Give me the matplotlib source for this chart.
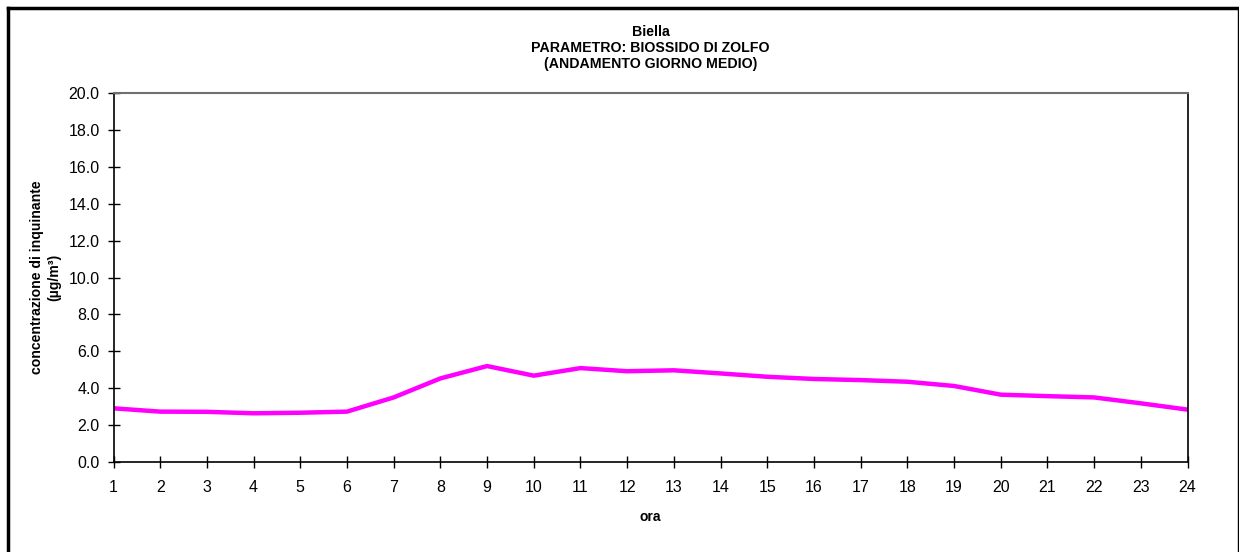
import matplotlib.pyplot as plt
from matplotlib.lines import Line2D
from matplotlib.ticker import MultipleLocator, FormatStrFormatter

plt.rcParams['font.family'] = ['Liberation Sans', 'DejaVu Sans']

# ore del giorno e concentrazione media (ug/m3)
ore = list(range(1, 25))
concentrazione = [2.91, 2.73, 2.72, 2.64, 2.67, 2.73, 3.50, 4.53, 5.20, 4.68,
                  5.09, 4.92, 4.97, 4.80, 4.62, 4.50, 4.44, 4.35, 4.12, 3.65,
                  3.57, 3.50, 3.18, 2.84]

titolo = "Biella\nPARAMETRO: BIOSSIDO DI ZOLFO\n(ANDAMENTO GIORNO MEDIO)"

fig = plt.figure(figsize=(12.39, 5.52), dpi=100)
ax = fig.add_axes([113.5 / 1239, 1 - 462 / 552, (1187.5 - 113.5) / 1239, (462 - 93) / 552])

ax.plot(ore, concentrazione, color='#FF00FF', linewidth=3.2, solid_joinstyle='miter')

ax.set_xlim(1, 24)
ax.set_ylim(0, 20)
ax.set_xticks(ore)
ax.yaxis.set_major_locator(MultipleLocator(2))
ax.yaxis.set_major_formatter(FormatStrFormatter('%.1f'))
ax.tick_params(axis='both', direction='inout', length=8, width=1, labelsize=11.5, color='black')
ax.tick_params(axis='x', pad=9)
ax.tick_params(axis='y', pad=6)

for side in ['left', 'bottom', 'right']:
    ax.spines[side].set_color('black')
    ax.spines[side].set_linewidth(1.2)
ax.spines['top'].set_color('#707070')
ax.spines['top'].set_linewidth(1.5)

ax.set_xlabel('ora', fontsize=10, fontweight='bold', labelpad=11)

# titolo e etichetta asse y come testo a livello figura
fig.text(0.5 * (113.5 + 1187.5) / 1239, 1 - 48 / 552, titolo, ha='center', va='center',
         fontsize=10.2, fontweight='bold', linespacing=1.2)
fig.text(37 / 1239, 1 - 277 / 552, 'concentrazione di inquinante', rotation=90,
         ha='center', va='center', fontsize=10.1, fontweight='bold')
fig.text(54 / 1239, 1 - 277 / 552, '(µg/m³)', rotation=90,
         ha='center', va='center', fontsize=10.1, fontweight='bold')

# cornice esterna del grafico
fig.add_artist(Line2D([8 / 1239, 8 / 1239], [0, 1 - 8 / 552], transform=fig.transFigure,
                      color='black', linewidth=2.5))
fig.add_artist(Line2D([8 / 1239, 1238 / 1239], [1 - 8 / 552, 1 - 8 / 552], transform=fig.transFigure,
                      color='black', linewidth=2.5))
fig.add_artist(Line2D([1238 / 1239, 1238 / 1239], [0, 1 - 8 / 552], transform=fig.transFigure,
                      color='black', linewidth=1.0))

fig.savefig('out.png', dpi=100)
